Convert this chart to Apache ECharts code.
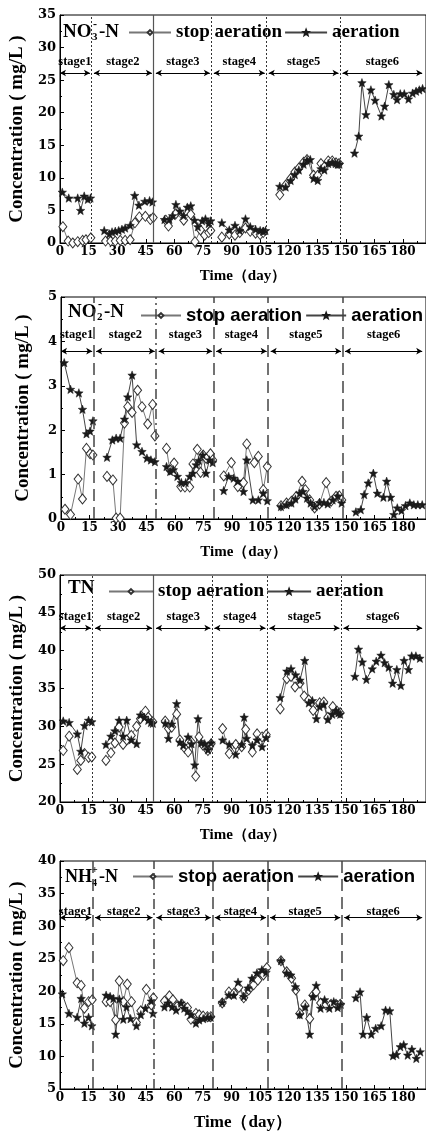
<!DOCTYPE html>
<html><head><meta charset="utf-8">
<script src="https://cdn.jsdelivr.net/npm/echarts@6/dist/echarts.min.js"></script>
<style>html,body{margin:0;padding:0;background:#fff}#c{width:426px;height:1133px}</style>
</head><body><div id="c"></div>
<script>
// ---------------- DATA ----------------
const stageNames = ['stage1','stage2','stage3','stage4','stage5','stage6'];
const xTickLabels = [0,15,30,45,60,75,90,105,120,135,150,165,180];

// Panel 1: NO3--N
const no3Bounds = [16.5,49,79.4,108.2,146.9];
const no3StopDay = [1.5,4.3,6.7,9.3,11.9,13.6,16.2, 23.9,26.6,29.0,31.6,34.2,36.8,39.3,41.6,44.8,47.4,48.9, 55.5,56.9,60.8,64.9,68.6,70.8,73.7,75.9,78.0,79.1, 84.9,88.8,91.8,94.3,97.3,99.8,102.6,105.0,106.6, 115.3,118.4,121.0,123.2,125.3,127.8,129.6,133.0,135.2,136.9,138.7,140.7,142.8,144.8,146.4];
const no3StopVal = [2.5,0.3,0.0,0.2,0.4,0.5,0.8, 0.3,0.3,0.3,0.4,0.4,0.5,3.1,4.0,4.1,3.6,3.9, 3.5,2.6,4.5,3.5,4.4,0.2,2.0,1.2,1.6,1.9, 0.9,1.4,1.2,1.6,2.3,1.8,1.5,1.3,1.6, 7.4,8.9,9.9,10.9,11.5,12.4,12.8,10.4,10.4,12.2,11.7,12.6,12.6,12.3,12.2];
const no3AerDay = [1.2,4.6,9.3,10.8,12.7,14.6,16.0, 23.2,25.9,27.3,29.0,30.8,32.5,34.2,36.8,39.2,41.4,44.5,47.0,48.5, 54.8,57.4,59.1,60.8,62.9,64.8,66.8,68.6,70.6,72.3,74.6,76.3,78.0,79.1, 84.9,88.8,91.8,94.3,97.3,99.8,102.6,105.0,106.6,107.8, 115.3,118.4,121.0,123.2,125.3,127.8,129.6,131.3,133.0,135.2,136.9,138.7,140.7,142.8,144.6,145.7,146.6, 154.5,156.7,158.4,160.5,163.1,165.3,168.6,170.3,172.5,175.1,176.8,178.5,180.6,182.8,185.0,186.8,188.5,190.2];
const no3AerVal = [7.8,6.9,6.9,5.0,7.2,6.7,6.9, 1.9,1.4,1.7,1.8,1.9,2.1,2.3,2.7,7.3,5.8,6.4,6.5,6.3, 3.6,3.6,4.2,5.9,4.9,4.2,5.5,5.7,3.5,2.5,3.4,3.7,3.0,3.4, 3.1,2.0,2.7,1.9,3.7,2.5,2.1,1.9,1.8,1.9, 8.7,8.6,9.6,10.5,11.2,12.1,12.7,12.8,9.9,9.6,11.4,11.2,12.2,12.4,12.2,12.1,12.1, 13.8,16.4,24.6,19.7,23.5,21.9,19.5,21.0,24.3,22.8,22.0,22.9,22.9,22.1,23.0,23.3,23.5,23.7];

// Panel 2: NO2--N
const no2Bounds = [17.2,50.1,80.3,109,148.1];
const no2StopDay = [2.1,5.0,9.0,11.3,13.4,15.3,16.8, 24.2,27.3,29.0,31.1,33.4,35.1,37.4,40.3,42.6,45.6,48.2,49.4, 55.5,57.2,59.5,63.0,65.2,67.7,69.4,71.7,73.4,74.8,76.3,78.6,79.8, 85.6,89.6,93.0,96.0,97.7,101.7,103.8,106.4,108.5, 115.7,118.6,121.2,123.8,126.8,128.5,130.8,133.4,136.0,139.5,142.1,144.7,146.4,147.7];
const no2StopVal = [0.22,0.10,0.90,0.45,1.59,1.47,1.44, 0.96,0.88,0.02,0.02,2.16,2.53,2.40,2.90,2.53,2.14,2.58,1.87, 1.59,1.11,1.26,0.73,0.72,0.72,1.24,1.57,1.05,1.44,1.37,1.47,1.33, 0.97,1.27,0.73,0.82,1.69,1.27,1.41,0.66,1.18, 0.30,0.36,0.40,0.51,0.85,0.66,0.43,0.25,0.34,0.82,0.40,0.51,0.52,0.43];
const no2AerDay = [1.7,5.0,9.4,11.3,13.4,15.3,16.8, 24.2,27.0,29.0,31.1,33.4,35.1,37.4,39.8,42.6,45.2,47.3,49.4, 55.5,57.4,59.1,61.2,63.3,65.6,67.7,69.4,71.1,72.5,74.6,76.3,78.1,79.8, 85.6,88.2,90.8,93.0,96.0,97.7,100.9,103.8,106.4,108.5, 115.7,118.6,121.2,123.3,125.6,127.3,129.4,131.3,133.4,136.0,138.3,140.3,142.9,145.6,147.6, 155.1,157.7,159.5,161.6,164.3,166.4,169.6,171.3,173.4,175.1,176.9,179.1,181.2,183.5,185.6,187.7,190.0];
const no2AerVal = [3.52,2.92,2.84,2.47,1.92,1.98,2.21, 1.39,1.78,1.82,1.82,2.25,2.75,3.24,1.67,1.52,1.37,1.33,1.29, 1.18,1.07,1.11,0.96,0.82,0.82,0.96,1.03,1.22,1.32,1.44,1.03,1.33,1.27, 0.64,0.96,0.92,0.85,0.62,1.33,0.43,0.43,0.58,0.41, 0.28,0.32,0.36,0.45,0.58,0.62,0.47,0.36,0.28,0.37,0.37,0.34,0.43,0.52,0.36, 0.16,0.21,0.55,0.81,1.03,0.58,0.49,0.85,0.49,0.10,0.25,0.19,0.30,0.36,0.32,0.32,0.32];

// Panel 3: TN
const tnBounds = [17.1,49.1,79.7,108.6,147.4];
const tnStopDay = [1.7,4.8,9.1,10.9,12.9,15.0,16.7, 24.1,26.7,28.8,31.0,33.1,35.0,37.4,40.2,42.2,44.8,46.3,48.7, 55.2,56.9,58.6,61.2,62.9,65.5,67.2,69.0,71.2,72.9,75.0,77.6,79.3, 85.3,88.8,92.2,95.3,97.4,100.9,103.4,106.0,108.2, 115.5,119.0,121.2,123.3,125.9,128.1,130.5,132.8,136.2,138.4,140.5,143.1,145.3,146.9];
const tnStopVal = [26.8,28.7,24.3,25.5,26.4,25.9,25.95, 25.5,26.5,27.8,29.9,27.6,28.2,28.8,30.0,31.0,32.0,31.2,30.6, 30.7,29.7,29.9,31.6,28.2,27.1,26.6,27.9,23.4,28.6,27.5,26.8,27.7, 29.7,26.4,27.6,27.3,29.6,26.6,29.0,28.6,28.9, 32.3,36.3,36.6,35.2,35.7,34.0,33.5,32.1,33.1,33.2,31.2,32.6,32.0,31.8];
const tnAerDay = [1.7,4.8,9.1,10.9,12.9,15.0,16.7, 24.1,26.7,28.8,31.0,33.1,35.0,37.4,40.2,42.2,44.3,46.3,47.7,48.7, 55.2,56.9,58.6,61.2,62.9,64.7,67.2,69.0,70.7,72.4,74.1,75.9,77.6,79.3, 85.3,88.8,92.2,95.3,96.6,97.8,100.9,103.4,106.0,108.2, 115.5,119.0,121.2,123.6,125.9,128.4,130.5,132.4,134.5,136.2,138.4,140.5,142.8,144.8,146.0,147.0, 154.7,156.6,158.6,160.7,163.8,165.9,168.4,170.3,172.4,174.5,176.7,178.8,180.5,182.8,184.5,186.7,188.8];
const tnAerVal = [30.7,30.5,29.0,26.7,30.1,30.8,30.6, 27.6,28.7,29.4,30.8,28.7,30.8,28.2,27.7,31.5,31.2,30.8,30.5,30.4, 30.4,28.4,30.3,33.0,27.9,27.5,28.6,27.7,24.9,31.0,27.8,27.7,26.9,27.8, 28.2,27.6,26.3,27.6,31.2,28.4,27.5,28.2,27.3,28.5, 33.8,37.3,37.6,36.8,36.1,38.7,33.1,33.4,31.0,32.6,32.9,30.9,31.6,32.1,31.8,31.6, 36.6,40.2,38.5,36.2,37.6,38.6,39.4,38.4,37.8,35.7,37.5,35.4,38.7,37.5,39.3,39.3,39.0];

// Panel 4: NH4+-N
const nh4Bounds = [17.1,49.3,79.9,108.9,147.8];
const nh4StopDay = [1.7,4.7,9.0,11.1,12.8,15.0,16.9, 24.2,26.3,29.2,31.1,33.2,35.3,37.5,40.1,42.4,45.3,47.9,49.0, 54.8,57.4,59.2,61.8,64.0,66.9,68.7,71.3,73.0,75.1,77.3,79.1, 85.1,88.6,91.2,93.8,96.4,99.0,101.6,103.8,106.7,108.5, 115.9,118.9,121.5,123.7,125.8,128.4,131.0,132.7,134.4,136.7,139.6,142.2,144.8,147.0];
const nh4StopVal = [24.7,26.7,21.3,20.9,17.4,18.4,18.7, 18.4,18.4,15.6,21.6,18.4,21.1,18.4,15.2,17.0,20.3,17.9,19.0, 18.5,19.3,18.7,17.8,18.0,17.5,15.7,16.6,16.4,16.2,16.1,16.1, 18.2,19.9,19.7,20.6,19.0,20.2,21.0,21.7,22.5,23.6, 24.7,23.0,22.0,20.2,16.6,17.9,15.8,19.4,19.9,18.2,17.9,18.0,18.0,18.0];
const nh4AerDay = [1.2,4.7,9.0,11.1,12.8,15.0,16.7, 24.2,26.3,28.0,29.2,31.1,33.2,34.9,37.0,40.1,42.4,44.8,47.9,48.8, 54.8,56.6,58.8,60.9,63.5,65.2,66.9,68.7,71.3,73.0,75.1,77.3,79.1, 85.1,88.6,91.2,93.4,96.4,98.6,100.7,103.3,105.9,108.1, 115.9,118.9,121.1,123.5,125.8,128.7,131.0,132.7,134.4,136.7,138.8,141.3,143.6,145.7,147.3, 155.2,157.4,159.0,160.9,163.3,165.6,168.5,170.8,173.0,174.7,176.5,178.5,180.3,182.4,184.6,186.9,189.0];
const nh4AerVal = [19.6,16.6,16.0,18.9,15.1,16.0,14.7, 19.4,19.2,18.9,13.4,18.8,15.7,17.6,15.8,14.7,16.4,17.4,18.5,16.6, 17.6,18.2,17.6,17.1,18.2,17.4,16.9,16.4,15.1,15.6,15.8,16.0,16.0, 18.3,19.4,19.4,21.4,19.2,20.5,22.0,22.8,23.3,22.9, 24.7,22.8,22.5,20.7,16.4,17.6,13.4,19.2,20.9,17.4,18.7,17.4,18.4,17.5,18.0, 19.0,19.9,13.4,16.0,13.4,14.3,14.7,17.1,17.0,10.1,10.3,11.5,11.8,10.2,11.1,9.7,10.7];

// axis ranges [min, max, interval] and stage-arrow level
const no3YRange = [0,35,5], no2YRange = [0,5,1], tnYRange = [20,50,5], nh4YRange = [5,40,5];
const arrowLevels = [26.1, 3.78, 43.0, 31.3];

// ---------------- LAYOUT / STYLE ----------------
const SERIF = '"Liberation Serif","Times New Roman",serif';
const DSERIF = '"DejaVu Serif",serif';
const SANS = '"Liberation Sans",Arial,sans-serif';
const STAR = 'path://M12,1 L14.9,8.6 L23,9 L16.7,14.1 L18.9,22 L12,17.5 L5.1,22 L7.3,14.1 L1,9 L9.1,8.6 Z';

const dotted = {type:[2,2], width:1, color:'#333'};
const solidG = {type:'solid', width:1.2, color:'#555'};
const longDash = {type:[12,6], width:1.5, color:'#444'};
const dashDot = {type:[10,4,2,4], width:1.5, color:'#444'};

const panels = [
  {left:57, top:15, width:372, height:228, yr:no3YRange, bounds:no3Bounds, sd:no3StopDay, sv:no3StopVal, ad:no3AerDay, av:no3AerVal,
   vstyle:[dotted,solidG,dotted,dotted,dotted], nameGap:27, xNameGap:26, xNameSize:15, stageDist:5,
   legend:{left:128, top:23, itemWidth:42, itemGap:2, font:SERIF, size:19}},
  {left:61, top:297, width:368, height:222, yr:no2YRange, bounds:no2Bounds, sd:no2StopDay, sv:no2StopVal, ad:no2AerDay, av:no2AerVal,
   vstyle:[longDash,dashDot,longDash,longDash,longDash], nameGap:28, xNameGap:26, xNameSize:15, stageDist:10,
   legend:{left:140, top:306, itemWidth:40, itemGap:3, font:SANS, size:18.5}},
  {left:58, top:575, width:371, height:227, yr:tnYRange, bounds:tnBounds, sd:tnStopDay, sv:tnStopVal, ad:tnAerDay, av:tnAerVal,
   vstyle:[dotted,solidG,dotted,dotted,dotted], nameGap:31, xNameGap:26, xNameSize:15, stageDist:5,
   legend:{left:108, top:582, itemWidth:44, itemGap:2, font:SERIF, size:19}},
  {left:59, top:861, width:370, height:228, yr:nh4YRange, bounds:nh4Bounds, sd:nh4StopDay, sv:nh4StopVal, ad:nh4AerDay, av:nh4AerVal,
   vstyle:[longDash,dashDot,longDash,longDash,longDash], nameGap:27, xNameGap:25, xNameSize:17, stageDist:-1,
   legend:{left:132, top:867, itemWidth:40, itemGap:3, font:SANS, size:18.5}}
];

function stageOf(d, b){ let s=0; while(s<b.length && d>b[s]) s++; return s; }
function pairs(days, vals, b){
  const out=[];
  for(let i=0;i<days.length;i++){
    if(i>0 && stageOf(days[i-1],b)!==stageOf(days[i],b)) out.push([(days[i-1]+days[i])/2,'-']);
    out.push([days[i], vals[i]]);
  }
  return out;
}

const grid=[], xAxis=[], yAxis=[], series=[], legend=[];
panels.forEach((p,i)=>{
  grid.push({left:p.left, top:p.top, width:p.width, height:p.height, show:true, borderColor:'#000', borderWidth:1, containLabel:false});
  xAxis.push({type:'value', gridIndex:i, min:0, max:192, interval:15,
    name:'Time\uFF08day\uFF09', nameLocation:'middle', nameGap:p.xNameGap,
    nameTextStyle:{fontFamily:SERIF, fontWeight:'bold', fontSize:p.xNameSize, color:'#000'},
    axisLine:{lineStyle:{color:'#000', width:1}},
    axisTick:{inside:true, length:4, lineStyle:{color:'#000'}},
    minorTick:{show:true, splitNumber:2, length:2, lineStyle:{color:'#000'}},
    axisLabel:{showMaxLabel:false, margin:3, fontFamily:DSERIF, fontWeight:'bold', fontSize:12, color:'#000'},
    splitLine:{show:false}});
  yAxis.push({type:'value', gridIndex:i, min:p.yr[0], max:p.yr[1], interval:p.yr[2],
    name:'Concentration ( mg/L )', nameLocation:'middle', nameGap:p.nameGap, nameRotate:90,
    nameTextStyle:{fontFamily:SERIF, fontWeight:'bold', fontSize:19, color:'#000'},
    axisLine:{lineStyle:{color:'#000', width:1}},
    axisTick:{inside:true, length:4, lineStyle:{color:'#000'}},
    minorTick:{show:true, splitNumber:2, length:2, lineStyle:{color:'#000'}},
    axisLabel:{margin:4, fontFamily:DSERIF, fontWeight:'bold', fontSize:13, color:'#000'},
    splitLine:{show:false}});
  const vData = p.bounds.map((b,k)=>({xAxis:b, lineStyle:p.vstyle[k]}));
  series.push({name:'stop aeration', type:'line', xAxisIndex:i, yAxisIndex:i,
    data:pairs(p.sd,p.sv,p.bounds), connectNulls:false,
    symbol:'diamond', symbolSize:[8,10], showAllSymbol:true,
    lineStyle:{color:'#777', width:1}, itemStyle:{color:'#fff', borderColor:'#333', borderWidth:1},
    markLine:{silent:true, symbol:'none', label:{show:false}, data:vData}});
  const arrows = stageNames.map((n,k)=>{
    const s = k===0 ? 0 : p.bounds[k-1]+1.3;
    const e = k===stageNames.length-1 ? 190 : p.bounds[k]-0.8;
    return [{coord:[s,arrowLevels[i]], name:n},{coord:[e,arrowLevels[i]]}];
  });
  series.push({name:'aeration', type:'line', xAxisIndex:i, yAxisIndex:i,
    data:pairs(p.ad,p.av,p.bounds), connectNulls:false,
    symbol:STAR, symbolSize:8.5, showAllSymbol:true,
    lineStyle:{color:'#444', width:1}, itemStyle:{color:'#1a1a1a', borderColor:'#1a1a1a', borderWidth:0.5},
    markLine:{silent:true, symbol:['arrow','arrow'], symbolSize:[5,6],
      lineStyle:{type:'solid', color:'#000', width:1},
      label:{show:true, position:'insideMiddleTop', distance:p.stageDist, formatter:'{b}', color:'#000', fontFamily:SERIF, fontWeight:'bold', fontSize:12.5},
      data:arrows}});
  legend.push({left:p.legend.left, top:p.legend.top, orient:'horizontal', padding:0,
    itemWidth:p.legend.itemWidth, itemHeight:6, itemGap:p.legend.itemGap,
    data:['stop aeration','aeration'], selectedMode:false,
    textStyle:{fontFamily:p.legend.font, fontWeight:'bold', fontSize:p.legend.size, color:'#000'}});
});

function txt(t,x,y,size,font){
  return {type:'text', silent:true, style:{text:t, x:x, y:y, font:'bold '+size+'px '+font, fill:'#000', textVerticalAlign:'middle', verticalAlign:'middle', textAlign:'left', align:'left'}};
}
const graphic = [
  txt('NO',63,32,19,SERIF), txt('3',92,37,11,SERIF), txt('-',93,25,12,SERIF), txt('-N',99,32,19,SERIF),
  txt('NO',68,312,19,SERIF), txt('2',97,317,11,SERIF), txt('-',98,305,12,SERIF), txt('-N',104,312,19,SERIF),
  txt('TN',68,588,19,SERIF),
  txt('NH',65,877,18,SERIF), txt('4',92,883,10,SERIF), txt('+',92,870,10,SERIF), txt('-N',99,877,18,SERIF)
];

const chart = echarts.init(document.getElementById('c'), null, {renderer:'canvas'});
chart.setOption({animation:false, backgroundColor:'#fff', grid, xAxis, yAxis, series, legend, graphic});
</script></body></html>
